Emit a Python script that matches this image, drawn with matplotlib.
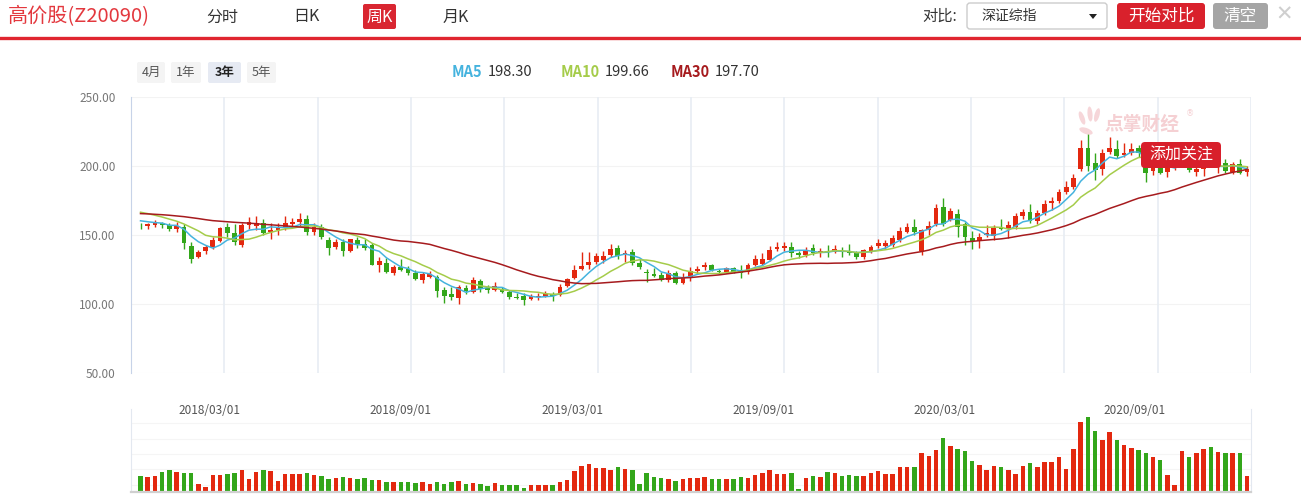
import numpy as np
import matplotlib
matplotlib.use("Agg")
import matplotlib.pyplot as plt
from matplotlib.patches import FancyBboxPatch, Ellipse, Polygon

plt.rcParams['font.family'] = ['Noto Sans CJK SC', 'DejaVu Sans']

W, H = 1301, 497

# weekly candles: open, close, high, low
opens = [157.6, 156.3, 157.0, 158.5, 157.3, 154.6, 156.0, 142.0, 134.3, 138.6,
         141.5, 145.9, 155.6, 151.2, 143.0, 157.2, 156.8, 158.5, 151.9, 153.6,
         156.0, 158.0, 159.4, 161.6, 152.4, 155.6, 146.4, 141.5, 144.9, 138.6,
         146.4, 143.2, 142.5, 128.5, 129.5, 122.7, 126.8, 125.4, 122.7, 117.4,
         119.8, 119.8, 110.1, 107.3, 104.6, 111.8, 109.0, 116.7, 111.8, 110.1,
         111.1, 108.7, 105.3, 106.0, 103.6, 105.3, 105.8, 107.5, 106.5, 113.1,
         118.6, 125.4, 128.3, 130.4, 131.9, 135.5, 140.3, 136.0, 137.5, 130.0,
         123.4, 121.7, 120.8, 117.4, 122.2, 115.5, 119.8, 123.7, 126.6, 128.0,
         124.2, 123.4, 125.8, 124.6, 123.5, 128.5, 129.0, 131.9, 139.6, 140.6,
         141.1, 137.2, 135.8, 140.4, 137.5, 138.7, 137.7, 138.7, 138.7, 137.2,
         133.8, 138.7, 142.0, 142.0, 142.8, 146.4, 152.4, 156.0, 138.2, 153.6,
         158.0, 170.5, 160.9, 165.2, 158.0, 147.8, 145.9, 150.0, 149.3, 155.6,
         154.6, 155.6, 163.8, 166.9, 160.4, 165.7, 173.0, 174.4, 181.2, 184.5,
         197.6, 212.8, 202.4, 197.6, 210.4, 212.1, 208.0, 209.2, 212.8, 209.0,
         196.6, 201.5, 195.9, 198.3, 202.5, 204.5, 195.9, 197.6, 206.0, 199.5,
         202.0, 195.9, 201.4, 195.7]
closes = [157.0, 157.7, 158.5, 157.5, 154.6, 156.5, 144.0, 132.9, 137.7, 141.5,
          146.4, 154.8, 151.2, 145.2, 157.0, 159.2, 158.5, 151.2, 153.6, 155.1,
          158.5, 159.2, 161.6, 152.4, 155.6, 148.8, 140.8, 144.9, 138.6, 146.9,
          143.5, 140.8, 128.5, 131.4, 123.4, 126.6, 124.6, 122.7, 118.4, 121.7,
          121.7, 109.7, 105.8, 105.3, 112.1, 109.4, 117.4, 110.6, 110.1, 113.1,
          109.0, 105.3, 104.6, 102.9, 105.8, 106.0, 107.5, 106.0, 112.6, 117.9,
          124.6, 127.8, 130.7, 134.8, 134.8, 139.9, 134.8, 136.7, 129.5, 126.6,
          122.7, 120.3, 117.4, 122.7, 115.5, 119.3, 124.2, 125.6, 128.3, 124.6,
          123.2, 125.8, 123.4, 122.7, 128.0, 132.5, 132.6, 139.1, 141.6, 142.0,
          136.7, 135.3, 139.1, 137.2, 138.2, 137.7, 139.9, 138.0, 136.7, 133.8,
          139.1, 141.6, 144.0, 144.0, 147.8, 153.1, 156.0, 152.2, 153.6, 156.8,
          169.6, 158.0, 167.6, 156.0, 148.8, 145.4, 148.3, 151.7, 155.3, 154.6,
          157.3, 163.8, 166.7, 160.4, 165.7, 172.5, 174.9, 181.2, 184.5, 191.1,
          213.1, 200.0, 197.1, 209.2, 212.8, 207.3, 209.2, 212.1, 209.2, 195.2,
          201.5, 195.2, 198.3, 202.5, 206.0, 197.1, 197.6, 200.0, 204.0, 200.3,
          196.1, 201.4, 194.7, 197.6]
highs = [159.0, 159.0, 160.9, 159.5, 158.5, 159.7, 158.0, 144.7, 139.0, 143.0,
         148.8, 156.0, 159.0, 158.0, 159.0, 163.3, 163.8, 161.4, 158.5, 158.5,
         163.8, 162.1, 166.2, 164.5, 158.5, 158.0, 148.8, 146.9, 146.9, 147.4,
         148.8, 147.4, 144.0, 133.8, 133.3, 128.5, 132.4, 127.5, 124.6, 123.4,
         123.7, 121.0, 112.6, 112.6, 113.8, 113.5, 119.3, 118.4, 113.5, 116.2,
         112.6, 110.1, 107.7, 108.2, 107.3, 107.7, 109.2, 108.7, 114.5, 118.8,
         128.3, 137.9, 137.9, 137.2, 138.2, 143.5, 143.0, 139.1, 139.6, 132.4,
         125.6, 125.8, 123.2, 124.6, 124.2, 122.7, 126.6, 127.5, 130.7, 129.0,
         125.5, 127.0, 127.0, 128.3, 130.0, 135.3, 137.2, 142.0, 145.2, 145.0,
         145.0, 138.6, 141.6, 143.5, 140.6, 142.5, 142.5, 141.6, 143.5, 138.6,
         140.1, 142.5, 146.9, 146.4, 150.3, 156.0, 159.0, 161.4, 154.1, 160.4,
         172.5, 176.6, 169.6, 168.6, 159.4, 152.7, 151.7, 157.3, 157.3, 161.4,
         160.4, 166.2, 169.1, 172.5, 168.1, 175.4, 177.8, 183.1, 189.4, 194.2,
         218.9, 224.2, 209.2, 212.6, 220.8, 218.9, 216.4, 216.4, 215.2, 210.5,
         203.5, 203.0, 200.7, 204.0, 207.0, 206.0, 200.0, 202.4, 207.5, 202.4,
         204.8, 203.2, 204.8, 199.8]
lows = [154.5, 154.5, 155.6, 155.0, 152.7, 152.4, 139.9, 130.0, 133.0, 136.5,
        140.1, 145.0, 148.8, 142.5, 141.5, 154.1, 153.6, 149.8, 147.4, 150.2,
        153.6, 156.5, 156.5, 149.8, 149.8, 147.4, 135.8, 140.1, 134.8, 137.7,
        140.8, 139.1, 128.0, 123.2, 122.7, 120.8, 124.2, 120.8, 117.4, 115.0,
        118.9, 105.3, 100.5, 102.9, 100.0, 107.3, 107.7, 108.7, 107.7, 109.7,
        108.2, 103.9, 103.9, 99.5, 102.9, 102.9, 104.8, 102.4, 105.8, 112.1,
        117.9, 124.6, 125.4, 129.0, 130.0, 134.3, 132.9, 130.4, 128.0, 125.1,
        116.2, 119.3, 116.4, 116.2, 114.5, 114.5, 116.9, 121.7, 124.6, 124.2,
        121.5, 122.5, 122.5, 118.6, 122.0, 127.6, 128.0, 131.0, 138.6, 138.6,
        134.3, 133.3, 133.8, 135.3, 133.8, 134.3, 136.7, 134.3, 135.5, 132.4,
        132.9, 136.7, 140.4, 140.1, 141.6, 145.2, 151.2, 150.3, 135.8, 150.3,
        156.5, 156.5, 159.9, 148.8, 142.5, 139.6, 140.6, 148.8, 146.4, 153.6,
        147.6, 154.1, 161.4, 158.5, 158.0, 164.8, 168.1, 173.4, 179.7, 183.6,
        196.6, 196.6, 189.9, 193.2, 208.7, 205.6, 206.8, 208.0, 206.8, 188.7,
        193.5, 194.0, 191.8, 197.0, 201.0, 195.5, 192.8, 192.9, 199.5, 194.7,
        194.7, 194.2, 194.2, 192.9]
volumes = [15, 14, 15, 19, 21, 19, 18, 18, 7, 4, 16, 16, 17, 18, 21, 12, 19, 21, 20, 10,
           17, 17, 17, 18, 16, 15, 12, 13, 14, 13, 12, 13, 11, 11, 9, 9, 9, 9, 8, 9,
           7, 9, 7, 9, 10, 7, 8, 7, 5, 8, 6, 6, 6, 3, 6, 6, 6, 6, 9, 11,
           20, 25, 27, 23, 23, 21, 24, 22, 21, 7, 18, 14, 13, 12, 10, 12, 13, 13, 14,
           12, 12, 12, 12, 14, 13, 16, 18, 21, 17, 17, 18, 2, 13, 15, 14, 19, 18, 15, 16,
           15, 15, 18, 20, 17, 17, 24, 24, 24, 38, 35, 41, 53, 45, 42, 40, 30, 26, 21, 25,
           24, 21, 17, 25, 28, 24, 29, 29, 34, 22, 42, 69, 74, 60, 51, 59, 51, 46, 43, 41,
           38, 34, 31, 16, 6, 40, 34, 38, 42, 44, 39, 38, 38, 38, 15]

# moving-average values at the start of the window (earlier weeks are off chart)
ma5_head = [160.3, 159.6, 159.0, 158.6]
ma10_head = [166.5, 165.5, 164.3, 163.0, 161.5, 160.0, 158.0, 155.5, 153.0]
ma30_head = [165.5, 165.3, 165.0, 164.7, 164.3, 163.8, 163.3, 162.6, 161.9, 161.1,
             160.4, 160.0, 159.6, 159.2, 158.9, 158.6, 158.2, 157.7, 157.4, 157.0,
             156.6, 156.2, 155.8, 155.3, 154.8, 154.3, 153.6, 152.9, 152.2]

date_labels = ['2018/03/01', '2018/09/01', '2019/03/01', '2019/09/01', '2020/03/01', '2020/09/01']
date_pos = [9.5, 36, 59.8, 86.2, 111.2, 137.4]
y_ticks = [50, 100, 150, 200, 250]
ma_legend = [('MA5', '198.30'), ('MA10', '199.66'), ('MA30', '197.70')]

RED = '#e3280f'
GREEN = '#33a61a'
MA_COLORS = ['#45b3de', '#a5cc4a', '#a61b1e']


def moving(vals, n, head):
    vals = np.asarray(vals)
    out = list(head)
    for i in range(n - 1, len(vals)):
        out.append(vals[i - n + 1:i + 1].mean())
    return np.array(out)


o = np.array(opens); c = np.array(closes); hi = np.array(highs); lo = np.array(lows)
x = np.arange(len(c))
up = c >= o
cols = np.where(up, RED, GREEN)

fig = plt.figure(figsize=(W / 100, H / 100), dpi=100)
fig.patch.set_facecolor('white')


def fx(px):
    return px / W


def fy(py):
    return 1 - py / H


def box(x0, y0, x1, y1, fc, ec='none', r=3, lw=1):
    p = FancyBboxPatch((x0 / 100, (H - y1) / 100), (x1 - x0) / 100, (y1 - y0) / 100,
                       boxstyle=f"round,pad=0,rounding_size={r / 100}",
                       fc=fc, ec=ec, lw=lw, transform=fig.dpi_scale_trans)
    fig.add_artist(p)


# ---------------- header ----------------
fig.text(fx(8), fy(17), '高价股(Z20090)', color='#e3383e', fontsize=14.5, va='center')
for label, cx in [('分时', 222), ('日K', 306), ('月K', 456)]:
    fig.text(fx(cx), fy(17), label, color='#333333', fontsize=11.5, ha='center', va='center')
box(363, 4, 396, 29, '#d92631', r=2)
fig.text(fx(380), fy(17), '周K', color='white', fontsize=11.5, ha='center', va='center')

fig.text(fx(957), fy(16), '对比:', color='#333333', fontsize=11, ha='right', va='center')
box(967, 3, 1107, 29, 'white', ec='#cccccc', r=3)
fig.text(fx(981), fy(16), '深证综指', color='#333333', fontsize=10, va='center')
fig.add_artist(Polygon([[fx(1089), fy(14)], [fx(1097), fy(14)], [fx(1093), fy(19)]],
                       closed=True, fc='#222222', ec='none', transform=fig.transFigure))
box(1117, 3, 1205, 29, '#d9212c', r=3)
fig.text(fx(1161), fy(16), '开始对比', color='white', fontsize=12, ha='center', va='center')
box(1213, 3, 1268, 29, '#a5a5a5', r=3)
fig.text(fx(1240.5), fy(16), '清空', color='white', fontsize=12, ha='center', va='center')
fig.text(fx(1284), fy(15), '✕', color='#cfcfcf', fontsize=15, ha='center', va='center',
         family=['DejaVu Sans'])
fig.add_artist(plt.Line2D([0, 1], [fy(38), fy(38)], color='#e0262f', lw=2.4,
                          transform=fig.transFigure))

# period buttons
for label, x0, x1, bold in [('4月', 137, 165, False), ('1年', 171, 201, False),
                            ('3年', 208, 241, True), ('5年', 247, 276, False)]:
    box(x0, 62, x1, 83, '#e6eaf3' if bold else '#f4f4f4', r=2)
    fig.text(fx((x0 + x1) / 2), fy(72.5), label, color='#222222' if bold else '#555555',
             fontsize=9, ha='center', va='center', fontweight='bold' if bold else 'normal')

# MA legend
for (name, val), col, x0 in zip(ma_legend, MA_COLORS, [452, 561, 671]):
    t = fig.text(fx(x0), fy(72), name, color=col, fontsize=10.5, fontweight='bold', va='center')
    fig.canvas.draw()
    bb = t.get_window_extent()
    fig.text((bb.x1 + 5) / W, fy(72), val, color='#333333', fontsize=10.5, va='center')

# ---------------- main price chart ----------------
xl = (-(140.5 - 131) / 7.232, 153 + (1251 - 1247) / 7.232)
ax = fig.add_axes([fx(131), fy(373), 1120 / W, 276 / H])
ax.set_xlim(*xl)
ax.set_ylim(50, 250)
for s in ['top', 'right', 'bottom']:
    ax.spines[s].set_visible(False)
ax.spines['left'].set_color('#c7d3e8')
ax.set_yticks(y_ticks)
ax.set_yticklabels([f'{v:.2f}' for v in y_ticks])
ax.tick_params(axis='y', length=0, pad=11, labelsize=8.5, labelcolor='#777777')
ax.set_xticks([])
for v in y_ticks:
    ax.axhline(v, color='#f3f3f3', lw=0.8, zorder=0)
for gx in np.linspace(xl[0], xl[1], 13)[1:]:
    ax.axvline(gx, color='#e7ecf3', lw=1.2, zorder=0)

ax.vlines(x, lo, hi, color=cols, lw=1.0, zorder=2)
body = np.maximum(np.abs(c - o), 0.45)
ax.bar(x, body, bottom=np.minimum(o, c), width=0.66, color=cols, zorder=3, lw=0)

ma5 = moving(c, 5, ma5_head)
ma10 = moving(c, 10, ma10_head)
ma30 = moving(c, 30, ma30_head)
for m, col in zip([ma5, ma10, ma30], MA_COLORS):
    ax.plot(x, m, color=col, lw=1.1, zorder=4, solid_joinstyle='round')

# watermark
fig.text(fx(1104), fy(124), '点掌财经', color='#f5d0d3', fontsize=13.5, fontweight='bold',
         va='center', zorder=1)
fig.text(fx(1186), fy(114), '®', color='#f5d0d3', fontsize=6, va='center',
         family=['DejaVu Sans'])
for (ex, ey, w, h, a) in [(1082, 118, 5, 14, 20), (1090, 114, 5, 15, 5), (1097, 115, 5, 14, -15),
                          (1086, 131, 14, 6, -20)]:
    fig.add_artist(Ellipse((ex / 100, (H - ey) / 100), w / 100, h / 100, angle=a,
                           fc='#f6d6d9', ec='none', transform=fig.dpi_scale_trans))

# follow badge
box(1141, 142, 1221, 168, '#d81f2b', r=4)
fig.text(fx(1181), fy(155.5), '添加关注', color='white', fontsize=11.5, ha='center', va='center')

# ---------------- volume chart ----------------
axv = fig.add_axes([fx(131), fy(491), 1120 / W, 82 / H])
axv.set_xlim(*xl)
axv.set_ylim(0, 82)
for s in ['top', 'bottom']:
    axv.spines[s].set_visible(False)
for s in ['left', 'right']:
    axv.spines[s].set_color('#e3e8f0')
axv.set_xticks([])
axv.set_yticks([])
for gy in [67.7, 52.4, 37.1, 21.8, 6.5]:
    axv.axhline(gy, color='#f5f5f5', lw=0.8, zorder=0)
axv.bar(x, volumes, width=0.62, color=cols, lw=0, zorder=2)
fig.add_artist(plt.Line2D([fx(131), fx(1251)], [fy(492), fy(492)], color='#d0d0d0', lw=1.6,
                          transform=fig.transFigure))
for lab, p in zip(date_labels, date_pos):
    axv.text(p, 80, lab, color='#555555', fontsize=8.5, ha='center', va='center',
             transform=axv.transData)

fig.savefig('out.png', dpi=100, facecolor='white')
